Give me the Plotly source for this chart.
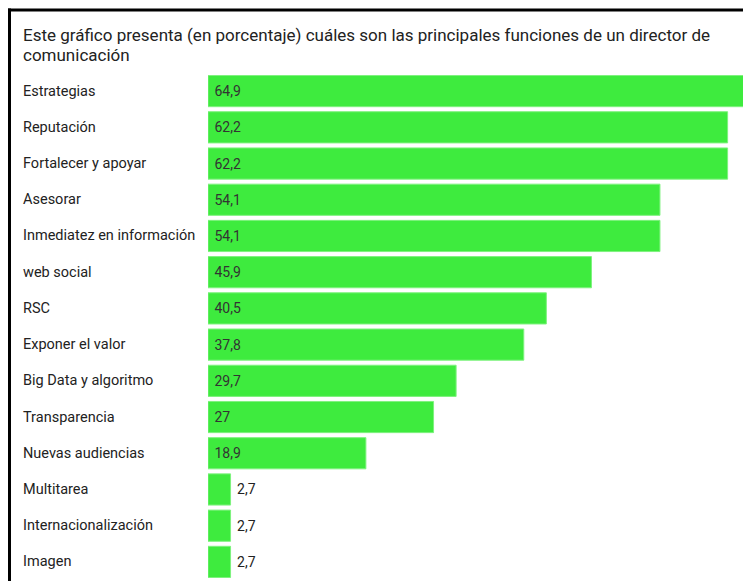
import plotly.graph_objects as go

categories = ["Estrategias", "Reputación", "Fortalecer y apoyar", "Asesorar",
              "Inmediatez en información", "web social", "RSC", "Exponer el valor",
              "Big Data y algoritmo", "Transparencia", "Nuevas audiencias",
              "Multitarea", "Internacionalización", "Imagen"]
values = [64.9, 62.2, 62.2, 54.1, 54.1, 45.9, 40.5, 37.8, 29.7, 27, 18.9, 2.7, 2.7, 2.7]
labels = ["64,9", "62,2", "62,2", "54,1", "54,1", "45,9", "40,5", "37,8", "29,7", "27",
          "18,9", "2,7", "2,7", "2,7"]
title_lines = ["Este gráfico presenta (en porcentaje) cuáles son las principales funciones de un director de",
               "comunicación"]

# page has an 8px body margin, so the figure is sized to the visible area
W, H = 743, 573
L, R, T, B = 200, 0, 65, 1
pw, ph = W - L - R, H - T - B


def px_x(fx):
    return (fx - L) / pw


def px_y(fy):
    return (H - B - fy) / ph


positions = ["inside" if v > 10 else "outside" for v in values]

fig = go.Figure(go.Bar(
    x=values, y=categories, orientation="h",
    text=labels, textposition=positions, insidetextanchor="start",
    texttemplate="\u00a0%{text}",
    insidetextfont=dict(family="Roboto", size=14, color="#333333"),
    outsidetextfont=dict(family="Roboto", size=14, color="#222222"),
    marker=dict(color="#3eeb3e", line=dict(color="#7ef27e", width=1)),
    cliponaxis=False, hoverinfo="skip",
))

annotations = []
for c in categories:
    annotations.append(dict(
        text=c, x=px_x(13), xref="paper", xanchor="left",
        y=c, yref="y", yanchor="middle", showarrow=False,
        font=dict(family="Roboto", size=14.5, color="#222222"),
    ))
for i, line in enumerate(title_lines):
    annotations.append(dict(
        text=line, x=px_x(13), xref="paper", xanchor="left",
        y=px_y(27 + 20 * i), yref="paper", yanchor="middle", showarrow=False,
        font=dict(family="Roboto", size=17, color="#222222"),
    ))

fig.update_layout(
    width=W, height=H,
    margin=dict(l=L, r=R, t=T, b=B),
    paper_bgcolor="white", plot_bgcolor="white",
    bargap=5 / 36,
    showlegend=False,
    xaxis=dict(range=[0, 65], visible=False, fixedrange=True),
    yaxis=dict(autorange="reversed", showticklabels=False, showgrid=False,
               zeroline=False, showline=False, ticks=""),
    annotations=annotations,
    shapes=[
        dict(type="line", xref="paper", yref="paper",
             x0=px_x(0), x1=px_x(W), y0=px_y(2), y1=px_y(2),
             line=dict(color="black", width=3)),
        dict(type="line", xref="paper", yref="paper",
             x0=px_x(1.5), x1=px_x(1.5), y0=px_y(0.5), y1=px_y(H),
             line=dict(color="black", width=3)),
    ],
)

fig.write_html("out.html")
